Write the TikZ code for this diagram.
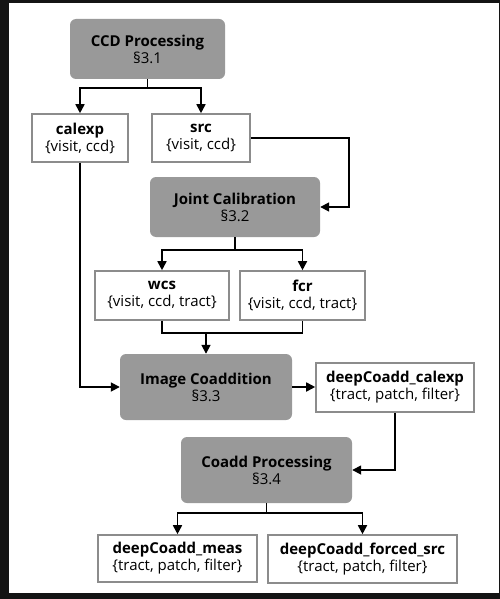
\documentclass[tikz,border=0pt]{standalone}
\usepackage{fontspec}
\setmainfont{Open Sans}
\usepackage{tikz}
\usetikzlibrary{positioning, arrows.meta, calc}
\colorlet{cProc}{black!40}
\colorlet{cEdge}{black!45}

\begin{document}
\begin{tikzpicture}[
  x=1pt, y=-1pt,
  proc/.style={rounded corners=6pt, fill=cProc, draw=none, align=center,
               font=\fontsize{15}{17}\selectfont, inner sep=0pt},
  data/.style={draw=cEdge, line width=1.6pt, fill=white, align=center,
               font=\fontsize{15}{17}\selectfont, inner sep=0pt},
  flow/.style={-{Triangle[length=9pt,width=9pt]}, line width=1.7pt},
  link/.style={line width=1.7pt},
]

% =========================================================================
% Frame: dark screenshot border round a white sheet, 500 x 599 units
% =========================================================================
\fill[black!92] (0,0) rectangle (500,599);
\fill[white] (9,3) rectangle (499,593);

% ---- processing stages --------------------------------------------------
\node[proc, minimum width=155, minimum height=60] (ccd) at (147.5,49)
  {\textbf{CCD Processing}\\\S3.1};
\node[proc, minimum width=170, minimum height=60] (jc) at (235,207)
  {\textbf{Joint Calibration}\\\S3.2};
\node[proc, minimum width=172, minimum height=66] (ic) at (206,387)
  {\textbf{Image Coaddition}\\\S3.3};
\node[proc, minimum width=171, minimum height=66] (cp) at (266.5,470)
  {\textbf{Coadd Processing}\\\S3.4};

% ---- data products ------------------------------------------------------
\node[data, minimum width=96, minimum height=48] (calexp) at (80,138)
  {\textbf{calexp}\\\{visit, ccd\}};
\node[data, minimum width=98, minimum height=48] (src) at (201,138)
  {\textbf{src}\\\{visit, ccd\}};
\node[data, minimum width=134, minimum height=49] (wcs) at (162,295.5)
  {\textbf{wcs}\\\{visit, ccd, tract\}};
\node[data, minimum width=125, minimum height=49] (fcr) at (302.5,295.5)
  {\textbf{fcr}\\\{visit, ccd, tract\}};
\node[data, minimum width=158, minimum height=49] (dcal) at (395,387.5)
  {\textbf{deepCoadd\_calexp}\\\{tract, patch, filter\}};
\node[data, minimum width=159, minimum height=47] (meas) at (177.5,558.5)
  {\textbf{deepCoadd\_meas}\\\{tract, patch, filter\}};
\node[data, minimum width=189, minimum height=48] (forced) at (362.5,559)
  {\textbf{deepCoadd\_forced\_src}\\\{tract, patch, filter\}};

% =========================================================================
% Connectors
% =========================================================================
\draw[flow] (ccd.south) -- ++(0,9) -| (calexp.north);
\draw[flow] (ccd.south) -- ++(0,9) -| (src.north);
\draw[flow] (src.east) -- ++(98,0) |- (jc.east);
\draw[flow] (calexp.south) |- (ic.west);

\draw[flow] (jc.south) -- ++(0,13) -| (wcs.north);
\draw[flow] (jc.south) -- ++(0,13) -| (fcr.north);

% wcs and fcr join, then feed the coadd
\coordinate (merge) at ($(wcs.south)+(0,12)$);
\draw[link] (wcs.south) -- (merge) -| (fcr.south);
\draw[flow] (merge -| ic.north) -- (ic.north);

\draw[flow] (ic.east) -- (ic.east -| dcal.west);
\draw[flow] (dcal.south) |- (cp.east);

\draw[flow] (cp.south) -- ++(0,10) -| (meas.north);
\draw[flow] (cp.south) -- ++(0,10) -| (forced.north);

\end{tikzpicture}
\end{document}
